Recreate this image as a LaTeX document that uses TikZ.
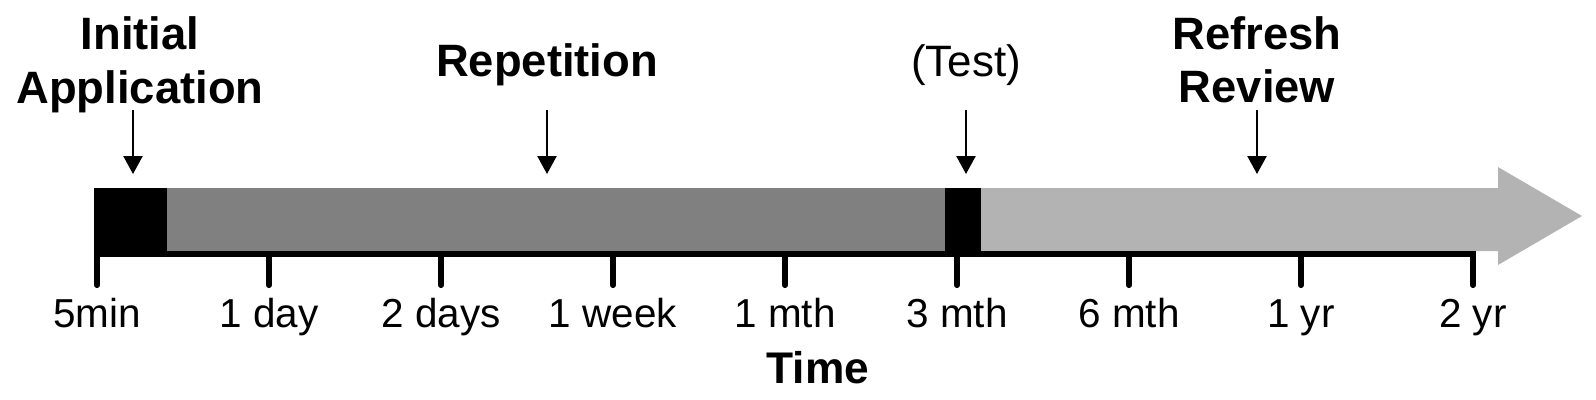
\documentclass[tikz,border=0pt]{standalone}
\usepackage{fontspec}
\setmainfont{Liberation Sans}
\usetikzlibrary{arrows.meta}
\definecolor{darkbar}{RGB}{128,128,128}
\definecolor{lightbar}{RGB}{179,179,179}
\tikzset{
  headlbl/.style={font=\fontsize{12.9pt}{15.4pt}\selectfont\bfseries, anchor=base, inner sep=0pt},
  testlbl/.style={font=\fontsize{12.5pt}{15pt}\selectfont, anchor=base, inner sep=0pt},
  ticklbl/.style={font=\fontsize{11.5pt}{13pt}\selectfont, anchor=base, inner sep=0pt},
  timelbl/.style={font=\fontsize{12.6pt}{14pt}\selectfont\bfseries, anchor=base, inner sep=0pt},
  pointer/.style={line width=0.6pt, -{Triangle[width=5.4pt,length=5.1pt]}},
  axisline/.style={line width=1.75pt},
  tickmark/.style={line width=1.75pt, line cap=round},
}
\begin{document}
\begin{tikzpicture}[x=0.01cm, y=-0.01cm]
\useasboundingbox (0,0) rectangle (1596,399);
% bars
\fill[darkbar] (167,188) rectangle (945,252);
\fill[black] (94,188) rectangle (167,252);
\fill[black] (945,188) rectangle (981,252);
\fill[lightbar] (981,188) -- (1498,188) -- (1498,167) -- (1582,216) -- (1498,265) -- (1498,251) -- (981,251) -- cycle;
% axis
\draw[axisline] (94,254) -- (1476,254);
\foreach \x in {97,269,441,613,785,957,1129,1301,1473}{
  \draw[tickmark] (\x,254) -- (\x,285);
}
% tick labels
\node[ticklbl] (t0) at (97,327) {5min};
\node[ticklbl] (t1) at (269,327) {1 day};
\node[ticklbl] (t2) at (441,327) {2 days};
\node[ticklbl] (t3) at (613,327) {1 week};
\node[ticklbl] (t4) at (785,327) {1 mth};
\node[ticklbl] (t5) at (957,327) {3 mth};
\node[ticklbl] (t6) at (1129,327) {6 mth};
\node[ticklbl] (t7) at (1301,327) {1 yr};
\node[ticklbl] (t8) at (1473,327) {2 yr};
\node[timelbl] (time) at (818,383) {Time};
% top labels
\node[headlbl] (ia1) at (140,49) {Initial};
\node[headlbl] (ia2) at (140,103) {Application};
\node[headlbl] (rep) at (547,76) {Repetition};
\node[testlbl] (test) at (966,76) {(Test)};
\node[headlbl] (rr1) at (1257,49) {Refresh};
\node[headlbl] (rr2) at (1257,102) {Review};
% pointers
\coordinate (p1s) at (133,110); \coordinate (p1e) at (133,174);
\coordinate (p2s) at (547,110); \coordinate (p2e) at (547,174);
\coordinate (p3s) at (966,110); \coordinate (p3e) at (966,174);
\coordinate (p4s) at (1257,110); \coordinate (p4e) at (1257,174);
\draw[pointer] (p1s) -- (p1e);
\draw[pointer] (p2s) -- (p2e);
\draw[pointer] (p3s) -- (p3e);
\draw[pointer] (p4s) -- (p4e);
\end{tikzpicture}
\end{document}
